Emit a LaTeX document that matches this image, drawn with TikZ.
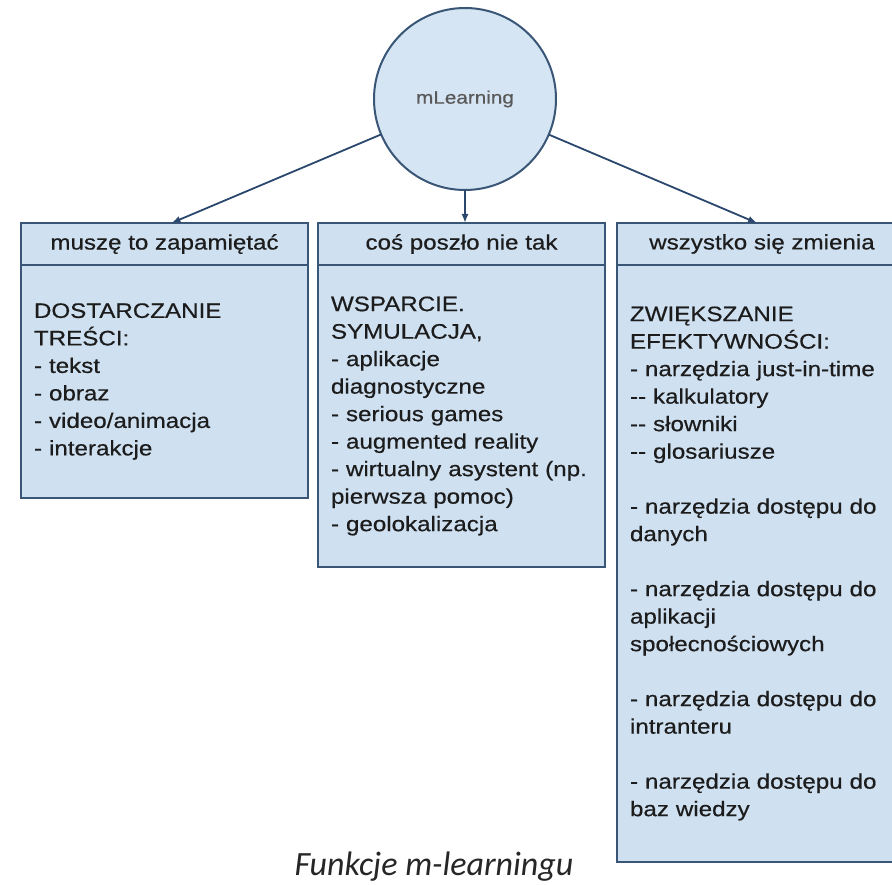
\documentclass[tikz,border=0pt]{standalone}
\usepackage{fontspec}
\setmainfont{Liberation Sans}
\newfontfamily\boxfont[FakeStretch=1.15, FakeBold=0.5]{Liberation Sans}
\newfontfamily\captfont{Carlito}
\usetikzlibrary{positioning, arrows.meta}
\definecolor{boxblue}{HTML}{CFE0F1}
\definecolor{circleblue}{HTML}{D6E5F3}
\definecolor{boxline}{HTML}{3A5676}
\definecolor{arrowblue}{HTML}{2A476E}
\definecolor{textgray}{HTML}{1C1C1C}

\begin{document}
\begin{tikzpicture}[
    x = 1pt, y = -1pt,
    every node/.style = {
        font = \boxfont\fontsize{21}{27.5}\selectfont,
        text = textgray,
        outer sep = 0pt
    },
    headbox/.style = {
        draw = boxline, fill = boxblue, line width = 2pt,
        minimum width = 287pt, minimum height = 42pt,
        inner sep = 0pt, anchor = north
    },
    listbox/.style = {
        draw = boxline, fill = boxblue, line width = 2pt,
        text width = 261pt, inner xsep = 13pt, inner ysep = 0pt,
        align = left, below = 0pt of #1
    },
    >={Latex[length=9pt, width=7pt]}
]
\useasboundingbox (0,0) rectangle (892,885);

% circle
\node[circle, draw = boxline, fill = circleblue, line width = 2pt, minimum size = 182pt,
      font = \boxfont\fontsize{18}{20}\selectfont, text = black!65] (mlearn) at (465,99) {mLearning};

% headers
\node[headbox] (head1) at (164.5,223) {muszę to zapamiętać};
\node[headbox] (head2) at (461.5,223) {coś poszło nie tak};
\node[headbox, minimum width = 290pt] (head3) at (762,223) {wszystko się zmienia};

% contents
\node[listbox = head1, minimum height = 233pt] (list1) {DOSTARCZANIE\\TREŚCI:\\- tekst\\- obraz\\- video/animacja\\- interakcje};
\node[listbox = head2, minimum height = 302pt] (list2) {WSPARCIE.\\SYMULACJA,\\- aplikacje\\diagnostyczne\\- serious games\\- augmented reality\\- wirtualny asystent (np.\\pierwsza pomoc)\\- geolokalizacja};
\node[listbox = head3, minimum height = 597pt, text width = 264pt] (list3) {ZWIĘKSZANIE\\EFEKTYWNOŚCI:\\- narzędzia just-in-time\\-{}- kalkulatory\\-{}- słowniki\\-{}- glosariusze\\[27.5pt]- narzędzia dostępu do\\danych\\[27.5pt]- narzędzia dostępu do\\aplikacji\\społecnościowych\\[27.5pt]- narzędzia dostępu do\\intranteru\\[27.5pt]- narzędzia dostępu do\\baz wiedzy};

% arrows
\draw[->, arrowblue, line width = 1.8pt] (mlearn) -- ([xshift=7pt]head1.north);
\draw[->, arrowblue, line width = 1.8pt] (mlearn) -- (mlearn |- head2.north);
\draw[->, arrowblue, line width = 1.8pt] (mlearn) -- ([xshift=-5pt]head3.north);

% caption
\node[font = \captfont\itshape\fontsize{34}{40}\selectfont, text = black!85, anchor = base] (caption) at (434,875) {Funkcje m-learningu};

\end{tikzpicture}
\end{document}
